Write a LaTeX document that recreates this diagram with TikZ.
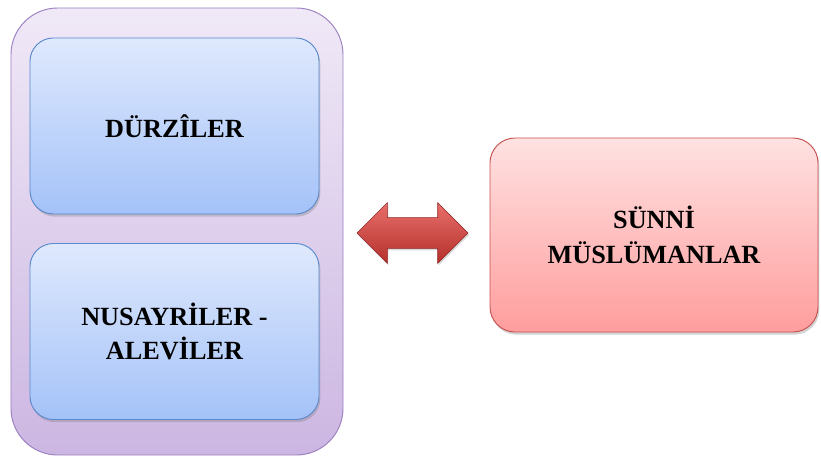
\documentclass[tikz,border=0pt]{standalone}
\usepackage{fontspec}
\setmainfont{Liberation Serif}
\usetikzlibrary{shapes.arrows,shadows}
\definecolor{lilatop}{HTML}{F0E9F7}
\definecolor{lilabot}{HTML}{CCB6E2}
\definecolor{lilaline}{HTML}{9C80C2}
\definecolor{bluetop}{HTML}{DFE9FD}
\definecolor{bluebot}{HTML}{A4C2F8}
\definecolor{blueline}{HTML}{5A89CC}
\definecolor{redtop}{HTML}{FFE2E2}
\definecolor{redbot}{HTML}{FF9D9D}
\definecolor{redline}{HTML}{C5524F}
\definecolor{arrowtop}{HTML}{E86F6B}
\definecolor{arrowbot}{HTML}{B5302C}
\tikzset{
  groupbox/.style={draw=lilaline, line width=0.8pt, rounded corners=1.4cm,
    top color=lilatop, bottom color=lilabot, minimum width=9.96cm, minimum height=13.41cm},
  bluebox/.style={draw=blueline, line width=0.8pt, rounded corners=0.7cm,
    top color=bluetop, bottom color=bluebot, minimum width=8.67cm, minimum height=5.28cm,
    drop shadow={opacity=0.35, shadow xshift=0.4mm, shadow yshift=-0.8mm},
    align=center, font=\fontsize{22.4}{29.5}\selectfont\bfseries},
  redbox/.style={draw=redline, line width=0.8pt, rounded corners=0.75cm,
    top color=redtop, bottom color=redbot, minimum width=9.84cm, minimum height=5.82cm,
    drop shadow={opacity=0.35, shadow xshift=0.4mm, shadow yshift=-0.8mm},
    align=center, font=\fontsize{22.4}{29.5}\selectfont\bfseries}
}
\begin{document}
\begin{tikzpicture}[x=0.03cm, y=-0.03cm]
  \useasboundingbox (0,0) rectangle (821,457);
  \node[groupbox] (group) at (177,231.5) {};
  \node[bluebox] (durzi) at (174.5,126) {DÜRZÎLER};
  \node[bluebox] (nusayri) at (174.5,331.5) {NUSAYRİLER -\\ALEVİLER};
  \node[redbox] (sunni) at (654,235) {SÜNNİ\\MÜSLÜMANLAR};
  \node[double arrow, draw=arrowbot!80!black, line width=0.5pt, top color=arrowtop, bottom color=arrowbot,
    inner xsep=0pt, inner ysep=0.45cm, minimum width=1.8cm, minimum height=3.33cm, double arrow head extend=0.45cm,
    drop shadow={opacity=0.3, shadow xshift=0.3mm, shadow yshift=-0.6mm}] (rel) at (412.5,233) {};
\end{tikzpicture}
\end{document}
